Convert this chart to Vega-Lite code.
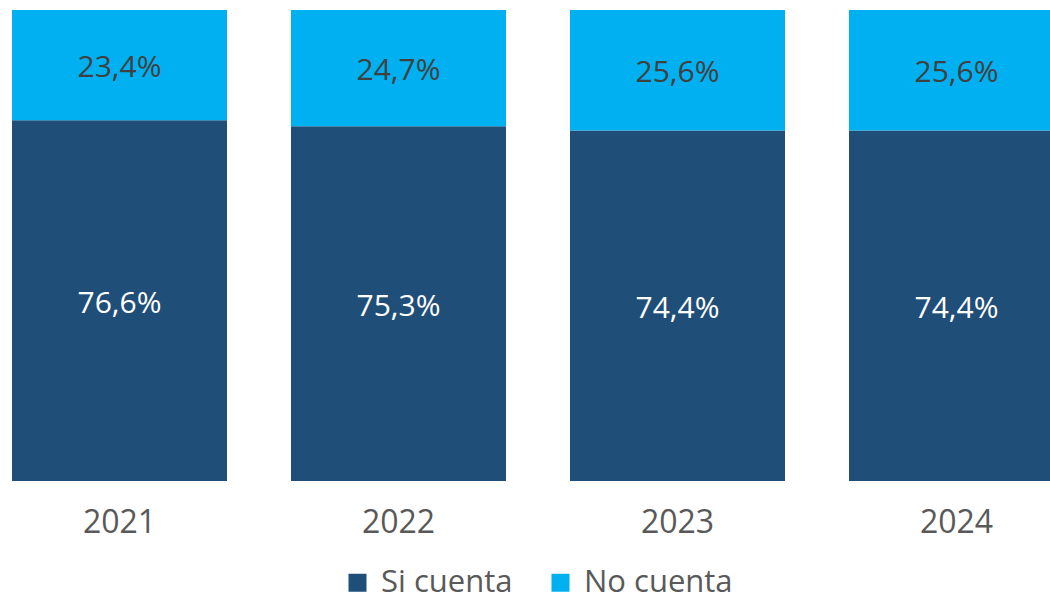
{
  "$schema": "https://vega.github.io/schema/vega-lite/v6.json",
  "width": 1076,
  "height": 471,
  "autosize": "none",
  "padding": {"left": 0, "top": 10, "right": 0, "bottom": 118},
  "config": {
    "locale": {"number": {"decimal": ",", "thousands": ".", "grouping": [3], "currency": ["", " €"]}},
    "view": {"stroke": null},
    "font": "Open Sans"
  },
  "data": {
    "values": [
      {"year": "2021", "serie": "Si cuenta", "value": 0.766},
      {"year": "2021", "serie": "No cuenta", "value": 0.234},
      {"year": "2022", "serie": "Si cuenta", "value": 0.753},
      {"year": "2022", "serie": "No cuenta", "value": 0.247},
      {"year": "2023", "serie": "Si cuenta", "value": 0.744},
      {"year": "2023", "serie": "No cuenta", "value": 0.256},
      {"year": "2024", "serie": "Si cuenta", "value": 0.744},
      {"year": "2024", "serie": "No cuenta", "value": 0.256}
    ]
  },
  "transform": [
    {"stack": "value", "groupby": ["year"], "sort": [{"field": "serie", "order": "descending"}], "as": ["v0", "v1"]},
    {"calculate": "(datum.v0 + datum.v1) / 2", "as": "mid"}
  ],
  "encoding": {
    "x": {
      "field": "year", "type": "nominal", "title": null,
      "scale": {"paddingInner": 0.2294, "paddingOuter": 0.043},
      "axis": {"domain": false, "ticks": false, "labelAngle": 0, "labelFontSize": 32, "labelColor": "#595959", "labelPadding": 26, "labelFont": "Open Sans"}
    }
  },
  "layer": [
    {
      "mark": {"type": "bar"},
      "encoding": {
        "y": {"field": "v0", "type": "quantitative", "scale": {"domain": [0, 1]}, "axis": null},
        "y2": {"field": "v1"},
        "color": {
          "field": "serie", "type": "nominal",
          "scale": {"domain": ["Si cuenta", "No cuenta"], "range": ["#1F4E79", "#00B0F0"]},
          "legend": {
            "title": null, "orient": "none", "legendX": 342, "legendY": 557,
            "direction": "horizontal", "symbolType": "square", "symbolSize": 324,
            "symbolStrokeWidth": 0, "symbolOpacity": 1,
            "labelFontSize": 31, "labelColor": "#595959", "labelFont": "Open Sans",
            "labelOffset": 8, "columnPadding": 32, "labelLimit": 300
          }
        }
      }
    },
    {
      "mark": {"type": "text", "fontSize": 30, "baseline": "middle", "dy": 3},
      "encoding": {
        "y": {"field": "mid", "type": "quantitative", "scale": {"domain": [0, 1]}, "axis": null},
        "text": {"field": "value", "type": "quantitative", "format": ".1%"},
        "color": {
          "field": "serie", "type": "nominal",
          "scale": {"domain": ["Si cuenta", "No cuenta"], "range": ["#FFFFFF", "#404040"]},
          "legend": null
        }
      }
    }
  ],
  "resolve": {"scale": {"color": "independent"}}
}
